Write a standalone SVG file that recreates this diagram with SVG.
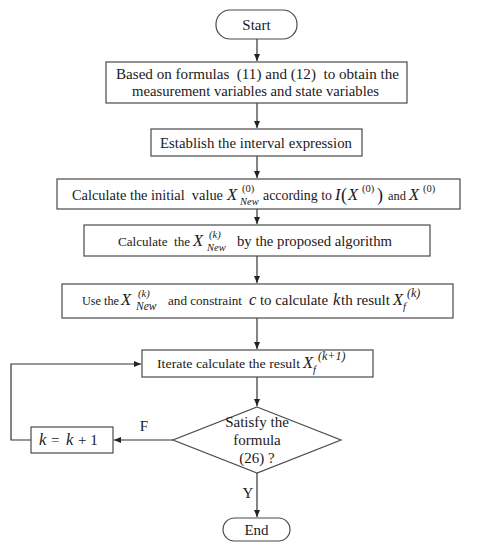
<svg xmlns="http://www.w3.org/2000/svg" width="478" height="550" viewBox="0 0 478 550">
<style>
  .box{fill:#fff;stroke:#4a4a4a;stroke-width:1.2}
  .t{font-family:"Liberation Serif","Times New Roman",serif;font-size:15px;fill:#1a1a1a}
  .m{font-family:"Liberation Serif","Times New Roman",serif;font-size:16.5px;font-style:italic;fill:#1a1a1a}
  .s{font-family:"Liberation Serif","Times New Roman",serif;font-size:10.5px;fill:#1a1a1a}
  .si{font-family:"Liberation Serif","Times New Roman",serif;font-size:10.5px;font-style:italic;fill:#1a1a1a}
  .c{text-anchor:middle}
  .ln{fill:none;stroke:#333;stroke-width:1.2}
</style>
<defs>
  <marker id="ar" markerWidth="8" markerHeight="8" refX="7" refY="4" orient="auto" markerUnits="userSpaceOnUse">
    <path d="M0,1 L7,4 L0,7 Z" fill="#222"/>
  </marker>
</defs>
<rect width="478" height="550" fill="#fff"/>
<g id="connectors">
  <line class="ln" x1="257" y1="39" x2="257" y2="61" marker-end="url(#ar)"/>
  <line class="ln" x1="257" y1="103" x2="257" y2="128" marker-end="url(#ar)"/>
  <line class="ln" x1="257" y1="156" x2="257" y2="178" marker-end="url(#ar)"/>
  <line class="ln" x1="257" y1="209" x2="257" y2="224" marker-end="url(#ar)"/>
  <line class="ln" x1="257" y1="256" x2="257" y2="283" marker-end="url(#ar)"/>
  <line class="ln" x1="257" y1="318" x2="257" y2="349" marker-end="url(#ar)"/>
  <line class="ln" x1="257" y1="377" x2="257" y2="406" marker-end="url(#ar)"/>
  <line class="ln" x1="257" y1="473" x2="257" y2="517" marker-end="url(#ar)"/>
  <line class="ln" x1="173" y1="440" x2="114" y2="440" marker-end="url(#ar)"/>
  <polyline class="ln" points="31,440 11,440 11,364 141,364" marker-end="url(#ar)"/>
  <text class="t c" x="144" y="431">F</text>
  <text class="t c" x="248" y="498">Y</text>
</g>
<g id="start">
  <rect class="box" x="216" y="10" width="81" height="29" rx="14" ry="14"/>
  <text class="t c" x="256.5" y="29.5">Start</text>
</g>
<g id="step1">
  <rect class="box" x="106" y="62" width="301" height="41"/>
  <text class="t" x="116" y="79" style="font-size:14.5px" textLength="283" lengthAdjust="spacingAndGlyphs" xml:space="preserve">Based on formulas  (11) and (12)  to obtain the</text>
  <text class="t" x="132" y="96" style="font-size:14.5px" textLength="247" lengthAdjust="spacingAndGlyphs">measurement variables and state variables</text>
</g>
<g id="step2">
  <rect class="box" x="151" y="129" width="211" height="27"/>
  <text class="t" x="160" y="147.5" style="font-size:14.5px" textLength="192" lengthAdjust="spacingAndGlyphs">Establish the interval expression</text>
</g>
<g id="step3">
  <rect class="box" x="57" y="179" width="403" height="30"/>
  <text class="t" x="72" y="200" style="font-size:14.2px" textLength="151" lengthAdjust="spacingAndGlyphs" xml:space="preserve">Calculate the initial  value</text>
  <text class="m" x="227" y="200">X</text>
  <text class="s" x="242" y="192">(0)</text>
  <text class="si" x="240" y="205">New</text>
  <text class="t" x="263" y="200" style="font-size:13.8px" textLength="69" lengthAdjust="spacingAndGlyphs">according to</text>
  <text class="m" x="335" y="200">I</text>
  <text class="t" x="341" y="201" style="font-size:18px">(</text>
  <text class="m" x="348" y="200">X</text>
  <text class="s" x="362" y="192">(0)</text>
  <text class="t" x="377" y="201" style="font-size:18px">)</text>
  <text class="t" x="388" y="200" style="font-size:12.5px" textLength="18" lengthAdjust="spacingAndGlyphs">and</text>
  <text class="m" x="409" y="200">X</text>
  <text class="s" x="423" y="192">(0)</text>
</g>
<g id="step4">
  <rect class="box" x="84" y="225" width="346" height="31"/>
  <text class="t" x="118" y="246" style="font-size:13px" textLength="72" lengthAdjust="spacingAndGlyphs" xml:space="preserve">Calculate  the</text>
  <text class="m" x="193" y="246">X</text>
  <text class="si" x="209" y="238">(k)</text>
  <text class="si" x="207" y="251">New</text>
  <text class="t" x="237" y="246" style="font-size:14.5px" textLength="155" lengthAdjust="spacingAndGlyphs">by the proposed algorithm</text>
</g>
<g id="step5">
  <rect class="box" x="62" y="284" width="391" height="34"/>
  <text class="t" x="82" y="305" style="font-size:12.2px" textLength="37" lengthAdjust="spacingAndGlyphs">Use the</text>
  <text class="m" x="121" y="305">X</text>
  <text class="si" x="138" y="297">(k)</text>
  <text class="si" x="136" y="310" style="font-size:11.5px">New</text>
  <text class="t" x="168" y="305" style="font-size:13px" textLength="74" lengthAdjust="spacingAndGlyphs">and constraint</text>
  <text class="m" x="249" y="305">c</text>
  <text class="t" x="260" y="305" style="font-size:14px" textLength="68" lengthAdjust="spacingAndGlyphs">to calculate</text>
  <text class="m" x="333" y="305">k</text>
  <text class="t" x="341" y="305" textLength="49" lengthAdjust="spacingAndGlyphs">th result</text>
  <text class="m" x="393" y="305">X</text>
  <text class="si" x="403" y="310">f</text>
  <text class="si" x="407" y="297" style="font-size:12px">(k)</text>
</g>
<g id="step6">
  <rect class="box" x="142" y="350" width="231" height="27"/>
  <text class="t" x="157" y="368" style="font-size:13.5px" textLength="143" lengthAdjust="spacingAndGlyphs">Iterate calculate the result</text>
  <text class="m" x="303" y="368">X</text>
  <text class="si" x="313" y="373">f</text>
  <text class="si" x="318" y="360" style="font-size:12px">(k+1)</text>
</g>
<g id="decision">
  <polygon class="box" points="257,407 341,440 257,473 173,440"/>
  <text class="t c" x="257" y="427">Satisfy the</text>
  <text class="t c" x="257" y="445">formula</text>
  <text class="t c" x="257" y="463">(26) ?</text>
</g>
<g id="increment">
  <rect class="box" x="31" y="427" width="82" height="26"/>
  <text class="m" x="39" y="445">k</text>
  <text class="t" x="51" y="445">=</text>
  <text class="m" x="66" y="445">k</text>
  <text class="t" x="78" y="445" xml:space="preserve">+ 1</text>
</g>
<g id="end">
  <rect class="box" x="223" y="518" width="67" height="23" rx="11.5" ry="11.5"/>
  <text class="t c" x="256.5" y="534.5">End</text>
</g>
</svg>
